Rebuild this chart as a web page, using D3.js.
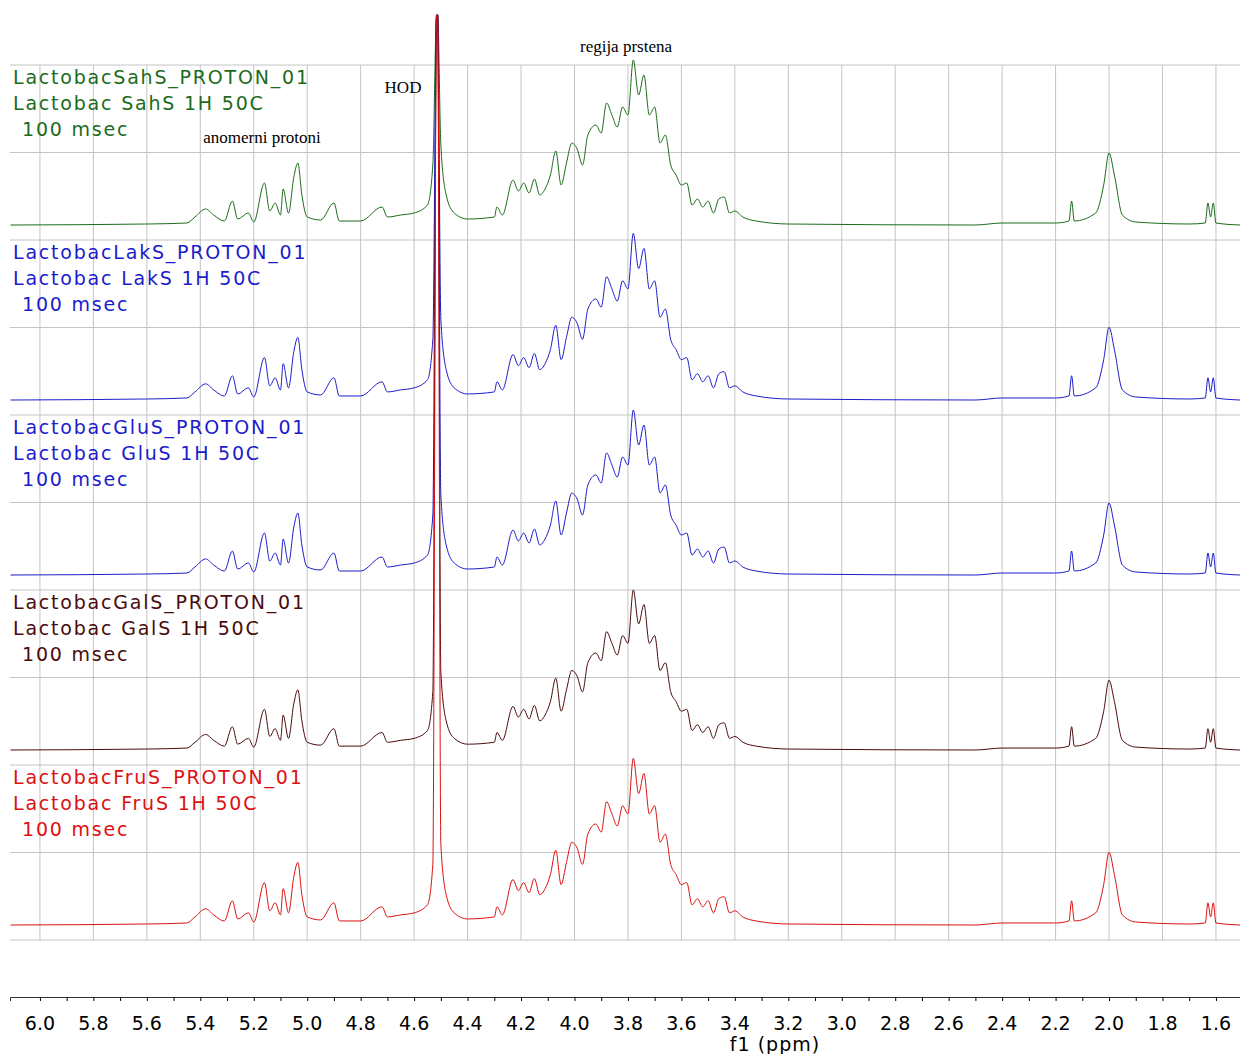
<!DOCTYPE html>
<html><head><meta charset="utf-8">
<script src="https://cdn.jsdelivr.net/npm/d3@7"></script>
<style>body{margin:0;background:#fff}</style>
</head><body>
<svg id="chart" width="1240" height="1054"></svg>
<script>
// spectrum shape: [ppm, intensity in px of top panel]
const shape = [[6.11,0],[5.6,1],[5.45,2],[5.42,8],[5.38,16],[5.35,10],[5.31,4],[5.28,24],[5.26,6],[5.22,12],[5.2,3],
 [5.16,42],[5.14,14],[5.12,22],[5.1,10],[5.09,36],[5.07,12],[5.05,48],[5.035,62],[5.02,30],[5.0,8],[4.95,5],
 [4.9,22],[4.88,4],[4.8,4],[4.72,18],[4.7,8],[4.65,10],[4.6,12],[4.55,20],[4.53,60],[4.516,2000],[4.512,2000],[4.50,80],
 [4.48,30],[4.45,12],[4.4,6],[4.3,8],[4.29,18],[4.27,10],[4.23,45],[4.21,34],[4.19,42],[4.17,32],[4.15,46],[4.13,30],
 [4.11,36],[4.09,50],[4.07,74],[4.05,40],[4.03,62],[4.01,82],[3.99,76],[3.97,60],[3.95,90],[3.92,100],[3.9,92],
 [3.88,122],[3.86,110],[3.84,98],[3.82,118],[3.80,110],[3.78,165],[3.76,130],[3.74,150],[3.72,110],[3.70,118],
 [3.68,82],[3.66,90],[3.64,60],[3.62,50],[3.6,40],[3.58,42],[3.56,20],[3.54,26],[3.52,18],[3.5,24],[3.48,12],
 [3.46,26],[3.44,28],[3.42,12],[3.40,14],[3.37,8],[3.32,4],[3.2,1],[2.5,0],[2.4,2],[2.2,2],[2.15,4],[2.14,24],
 [2.13,4],[2.05,12],[2.02,40],[2.0,72],[1.98,50],[1.95,10],[1.9,3],[1.7,1],[1.64,2],[1.63,22],[1.62,8],[1.61,22],
 [1.6,2],[1.51,0]];
const names = ['LactobacSahS_PROTON_01','LactobacLakS_PROTON_01','LactobacGluS_PROTON_01','LactobacGalS_PROTON_01','LactobacFruS_PROTON_01'];
const subtitles = ['Lactobac SahS 1H 50C','Lactobac LakS 1H 50C','Lactobac GluS 1H 50C','Lactobac GalS 1H 50C','Lactobac FruS 1H 50C'];
const scales = [1.0, 1.01, 1.0, 0.97, 1.01];
const colors = ['#1b6b1b','#1c1ccc','#1c1ccc','#4a0b0b','#dd1010'];
const ticks = d3.range(6.0, 1.55, -0.2);

const svg = d3.select('#chart');
const x = d3.scaleLinear().domain([6.112, 1.51]).range([10, 1240]);
const top0 = 65, panelH = 175;

// grid
svg.append('g').selectAll('line').data(ticks).join('line')
  .attr('x1', d => x(d)).attr('x2', d => x(d)).attr('y1', top0).attr('y2', top0 + 5 * panelH)
  .attr('stroke', '#c4c4c4');
svg.append('g').selectAll('line').data(d3.range(11)).join('line')
  .attr('x1', 10).attr('x2', 1240).attr('y1', i => top0 + i * panelH / 2).attr('y2', i => top0 + i * panelH / 2)
  .attr('stroke', '#c4c4c4');

// spectra
names.forEach((n, i) => {
  const base = top0 + (i + 1) * panelH - 15;
  const y = v => Math.max(15, base - v * scales[i]);
  svg.append('path').datum(shape)
    .attr('d', d3.line().x(d => x(d[0])).y(d => y(d[1])).curve(d3.curveMonotoneX))
    .attr('fill', 'none').attr('stroke', colors[i]).attr('stroke-width', 1);
  const g = svg.append('g').attr('fill', colors[i]).attr('font-family', 'DejaVu Sans')
    .attr('font-size', 19).attr('letter-spacing', 1.8);
  g.append('text').attr('x', 13).attr('y', top0 + 19 + i * panelH).text(n);
  g.append('text').attr('x', 13).attr('y', top0 + 45 + i * panelH).text(subtitles[i]);
  g.append('text').attr('x', 22).attr('y', top0 + 71 + i * panelH).text('100 msec');
});

// annotations
const ann = svg.append('g').attr('font-family', 'Liberation Serif').attr('font-size', 17).attr('text-anchor', 'middle');
ann.append('text').attr('x', 626).attr('y', 52).text('regija prstena');
ann.append('text').attr('x', 403).attr('y', 93).text('HOD');
ann.append('text').attr('x', 262).attr('y', 143).text('anomerni protoni');

// axis
const ax = svg.append('g').attr('transform', 'translate(0,997)')
  .call(d3.axisBottom(x).tickValues(d3.range(6.0, 1.55, -0.1)).tickSize(4).tickFormat(''));
ax.select('.domain').attr('stroke', '#333');
svg.append('g').attr('font-family', 'DejaVu Sans').attr('font-size', 19).attr('text-anchor', 'middle')
  .selectAll('text').data(ticks).join('text')
  .attr('x', d => x(d)).attr('y', 1030).text(d => d.toFixed(1));
svg.append('text').attr('x', 775).attr('y', 1051).attr('text-anchor', 'middle')
  .attr('font-family', 'DejaVu Sans').attr('font-size', 19).attr('letter-spacing', 1).text('f1 (ppm)');
</script>
</body></html>
